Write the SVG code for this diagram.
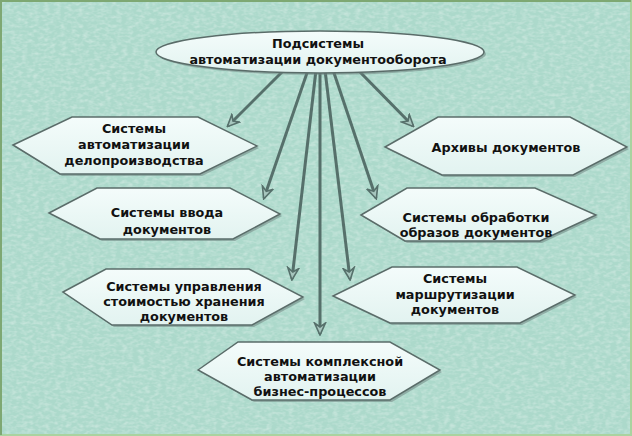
<svg xmlns="http://www.w3.org/2000/svg" width="632" height="436" viewBox="0 0 632 436">
<style>
.hex{fill:url(#hg);stroke:#5a6c69;stroke-width:1.5;stroke-linejoin:miter}
.sh{fill:#6f8581;opacity:.55}
.t{font-family:"DejaVu Sans","Verdana",sans-serif;font-weight:bold;font-size:12.8px;fill:#111;text-anchor:middle}
.c{fill:none;stroke:#56706b;stroke-width:3;marker-end:url(#ah)}
</style>
<defs>
<linearGradient id="hg" x1="0" y1="0" x2="0" y2="1">
<stop offset="0" stop-color="#f4fcfb"/>
<stop offset="1" stop-color="#e2f3f0"/>
</linearGradient>
<filter id="tex" x="0" y="0" width="100%" height="100%">
<feTurbulence type="fractalNoise" baseFrequency="0.18 0.32" numOctaves="2" seed="4" result="n"/>
<feColorMatrix in="n" type="matrix" values="0 0 0 0 1  0 0 0 0 1  0 0 0 0 1  0 0 0 -2.2 1.35"/>
</filter>
<marker id="ah" viewBox="0 0 14 14" refX="12" refY="7" markerWidth="14" markerHeight="14" markerUnits="userSpaceOnUse" orient="auto">
<path d="M1,1.5 L13,7 L1,12.5 L5,7 Z" fill="#a7c6be" stroke="#56706b" stroke-width="1.6" stroke-linejoin="miter"/>
</marker>
</defs>
<rect x="0" y="0" width="632" height="436" fill="#acd9cb"/>
<rect x="0" y="0" width="632" height="436" fill="#fff" filter="url(#tex)" opacity=".3"/>
<rect x="1" y="1" width="630" height="434" fill="none" stroke="#a9d3a0" stroke-width="2"/>
<path d="M1,435 V1 H631" fill="none" stroke="#7ea873" stroke-width="2"/>

<g id="connectors">
<line class="c" x1="284" y1="70" x2="228" y2="126"/>
<line class="c" x1="358" y1="70" x2="413" y2="126"/>
<line class="c" x1="308" y1="70" x2="264" y2="198"/>
<line class="c" x1="333" y1="70" x2="376" y2="198"/>
<line class="c" x1="316" y1="70" x2="292" y2="279"/>
<line class="c" x1="325" y1="70" x2="350" y2="279"/>
<line class="c" x1="320" y1="70" x2="320" y2="334"/>
</g>

<g id="root">
<ellipse cx="320" cy="52" rx="164" ry="21" fill="#6f8581" opacity=".55" transform="translate(2,2)"/>
<ellipse cx="320" cy="52" rx="164" ry="21" class="hex"/>
<text class="t" x="318" y="48">Подсистемы</text>
<text class="t" x="318" y="64">автоматизации документооборота</text>
</g>

<g id="n1">
<polygon class="sh" transform="translate(2,2)" points="13,145 72,117 198,117 257,146 200,174 60,174"/>
<polygon class="hex" points="13,145 72,117 198,117 257,146 200,174 60,174"/>
<text class="t" x="134" y="133">Системы</text>
<text class="t" x="134" y="149">автоматизации</text>
<text class="t" x="134" y="165">делопроизводства</text>
</g>

<g id="n2">
<polygon class="sh" transform="translate(2,2)" points="49,213 97,188 230,188 280,214 233,239 100,239"/>
<polygon class="hex" points="49,213 97,188 230,188 280,214 233,239 100,239"/>
<text class="t" x="167" y="217">Системы ввода</text>
<text class="t" x="167" y="234">документов</text>
</g>

<g id="n3">
<polygon class="sh" transform="translate(2,2)" points="385,147 438,117 570,117 627,147 573,175 442,175"/>
<polygon class="hex" points="385,147 438,117 570,117 627,147 573,175 442,175"/>
<text class="t" x="506" y="152">Архивы документов</text>
</g>

<g id="n4">
<polygon class="sh" transform="translate(2,2)" points="361,215 407,188 535,188 596,215 540,241 405,241"/>
<polygon class="hex" points="361,215 407,188 535,188 596,215 540,241 405,241"/>
<text class="t" x="476" y="222">Системы обработки</text>
<text class="t" x="476" y="237">образов документов</text>
</g>

<g id="n5">
<polygon class="sh" transform="translate(2,2)" points="63,292 106,269 249,269 303,297 252,325 112,325"/>
<polygon class="hex" points="63,292 106,269 249,269 303,297 252,325 112,325"/>
<text class="t" x="184" y="291">Системы управления</text>
<text class="t" x="184" y="306">стоимостью хранения</text>
<text class="t" x="184" y="321">документов</text>
</g>

<g id="n6">
<polygon class="sh" transform="translate(2,2)" points="333,296 392,267 517,267 575,295 520,323 390,323"/>
<polygon class="hex" points="333,296 392,267 517,267 575,295 520,323 390,323"/>
<text class="t" x="455" y="283">Системы</text>
<text class="t" x="455" y="299">маршрутизации</text>
<text class="t" x="455" y="314">документов</text>
</g>

<g id="n7">
<polygon class="sh" transform="translate(2,2)" points="198,370 238,342 390,342 440,370 390,400 252,400"/>
<polygon class="hex" points="198,370 238,342 390,342 440,370 390,400 252,400"/>
<text class="t" x="320" y="366">Системы комплексной</text>
<text class="t" x="320" y="381">автоматизации</text>
<text class="t" x="320" y="396">бизнес-процессов</text>
</g>
</svg>
